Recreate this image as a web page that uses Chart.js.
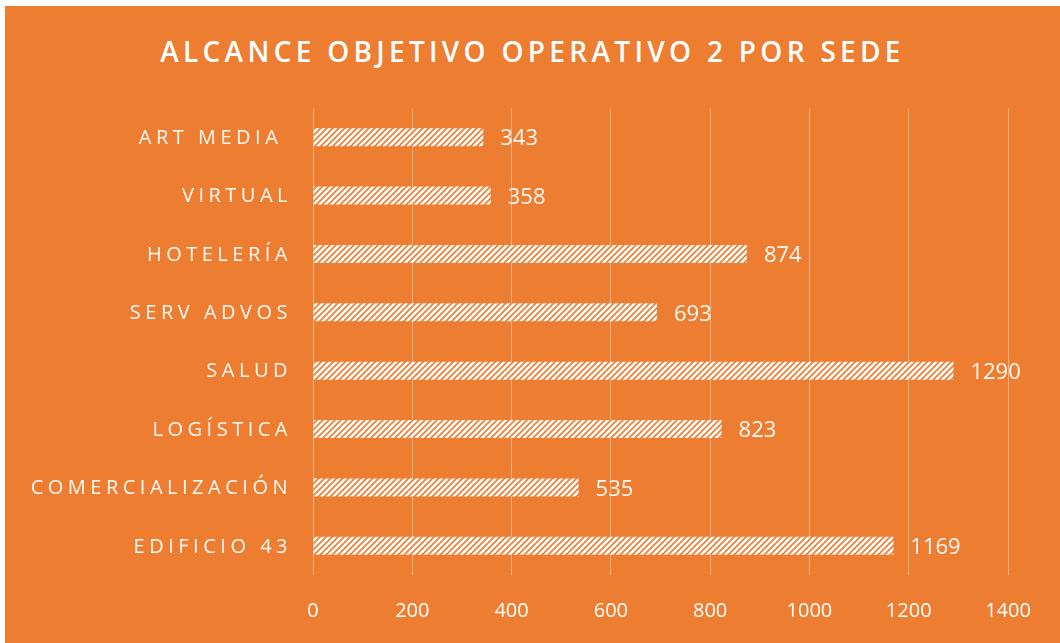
<!DOCTYPE html>
<html>
<head>
<meta charset="utf-8">
<script src="https://cdn.jsdelivr.net/npm/chart.js@4.4.1/dist/chart.umd.min.js"></script>
<style>
  html, body { margin: 0; padding: 0; background: #fff; }
  #wrap { position: absolute; left: 5px; top: 6px; width: 1055px; height: 637px; background: #ED7D31; }
  #title { position: absolute; left: 0; right: 0; top: 26px; margin: 0; text-align: center;
           font: 600 28px "Open Sans", sans-serif; letter-spacing: 4.3px; color: #fff; }
  #chartBox { position: absolute; left: 0; top: 0; width: 1055px; height: 637px; }
</style>
</head>
<body>
<div id="wrap">
  <h1 id="title">ALCANCE OBJETIVO OPERATIVO 2 POR SEDE</h1>
  <div id="chartBox"><canvas id="sedeChart"></canvas></div>
</div>
<script>
const sedes = ['ART MEDIA ', 'VIRTUAL', 'HOTELERÍA', 'SERV ADVOS', 'SALUD', 'LOGÍSTICA', 'COMERCIALIZACIÓN', 'EDIFICIO 43'];
const alcance = [343, 358, 874, 693, 1290, 823, 535, 1169];
const xTicks = [0, 200, 400, 600, 800, 1000, 1200, 1400];

function hatch() {
    const c = document.createElement('canvas');
    c.width = 6; c.height = 6;
    const g = c.getContext('2d');
    g.fillStyle = '#ffffff';
    g.fillRect(0, 0, 6, 6);
    g.strokeStyle = '#ED7D31';
    g.lineWidth = 1.6;
    g.beginPath();
    g.moveTo(-1, 7); g.lineTo(7, -1);
    g.moveTo(-4, 4); g.lineTo(4, -4);
    g.moveTo(2, 10); g.lineTo(10, 2);
    g.stroke();
    return g.createPattern(c, 'repeat');
}

// category names with letter spacing + value labels at bar ends
const labelPlugin = {
    id: 'labelPlugin',
    afterDraw(chart) {
        const ctx = chart.ctx;
        const y = chart.scales.y;
        ctx.save();
        ctx.fillStyle = 'rgba(255,255,255,0.95)';
        ctx.font = '20px "Open Sans", sans-serif';
        ctx.letterSpacing = '4.5px';
        ctx.textAlign = 'right';
        ctx.textBaseline = 'middle';
        sedes.forEach((s, i) => {
            ctx.fillText(s, 287, y.getPixelForTick(i) + 1);
        });
        ctx.letterSpacing = '0px';
        ctx.textAlign = 'left';
        ctx.font = '22px "Open Sans", sans-serif';
        chart.getDatasetMeta(0).data.forEach((bar, i) => {
            ctx.fillText(String(alcance[i]), bar.x + 17, bar.y + 2);
        });
        ctx.restore();
    }
};

document.addEventListener('DOMContentLoaded', function() {
    new Chart(document.getElementById('sedeChart'), {
        type: 'bar',
        data: {
            labels: sedes,
            datasets: [{
                data: alcance,
                backgroundColor: hatch(),
                borderWidth: 0,
                barPercentage: 0.62,
                categoryPercentage: 0.5
            }]
        },
        options: {
            indexAxis: 'y',
            responsive: true,
            maintainAspectRatio: false,
            animation: false,
            layout: { padding: { left: 308, right: 52, top: 102, bottom: 0 } },
            plugins: { legend: { display: false }, tooltip: { enabled: false } },
            scales: {
                x: {
                    min: 0, max: 1400,
                    afterBuildTicks(axis) { axis.ticks = xTicks.map(v => ({ value: v })); },
                    afterFit(axis) { axis.height = 68; },
                    grid: { color: 'rgba(255,255,255,0.4)', lineWidth: 1, drawTicks: false },
                    border: { display: false },
                    ticks: {
                        color: '#fff',
                        font: { family: '"Open Sans", sans-serif', size: 20, lineHeight: 1 },
                        padding: 26,
                        callback: v => String(v)
                    }
                },
                y: { display: false }
            }
        },
        plugins: [labelPlugin]
    });
});
</script>
</body>
</html>
